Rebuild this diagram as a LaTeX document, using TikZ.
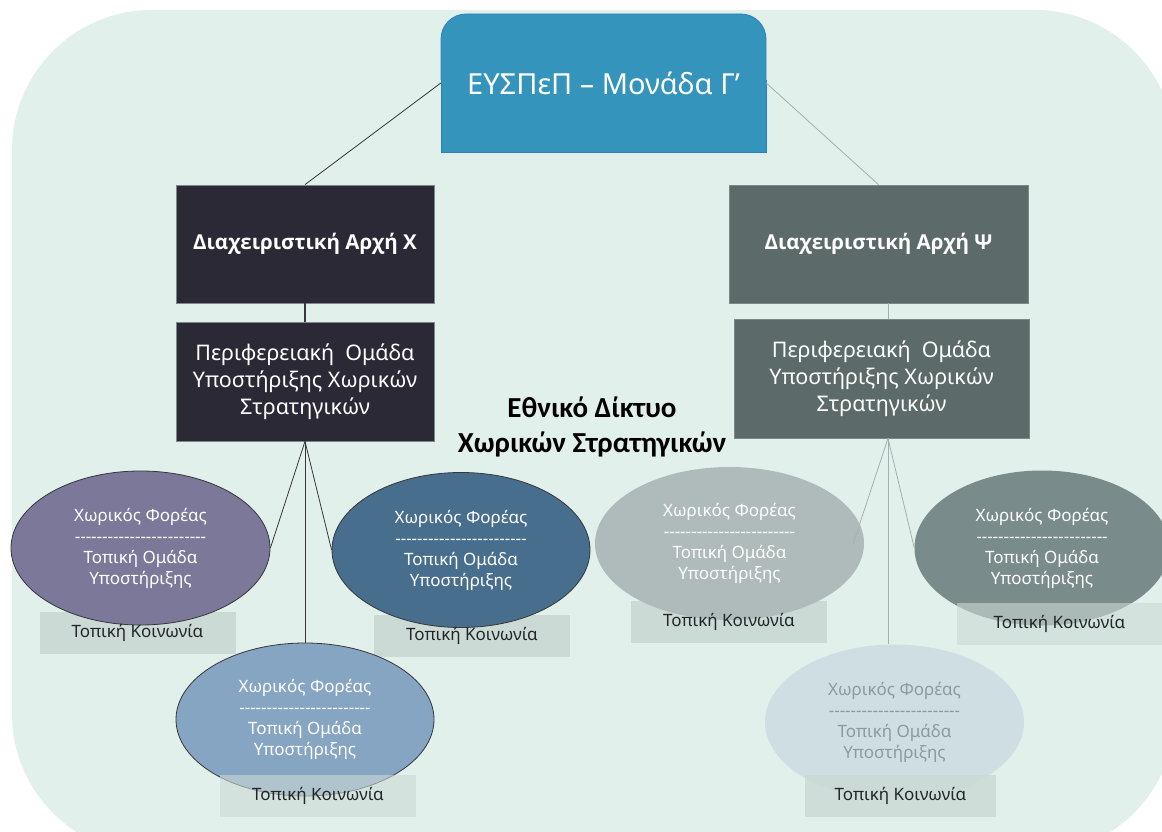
\documentclass[tikz,border=0pt]{standalone}
\usepackage{fontspec}
\setmainfont{Noto Sans}
\newfontfamily\headfont{Carlito}
\newfontfamily\authfont{Open Sans}
\usetikzlibrary{shapes.geometric}
\definecolor{bg}{RGB}{226,240,235}
\definecolor{topblue}{RGB}{53,148,188}
\definecolor{topedge}{RGB}{46,128,196}
\definecolor{darkx}{RGB}{43,41,54}
\definecolor{darkpsi}{RGB}{92,106,106}
\definecolor{boxedge}{RGB}{125,135,135}
\definecolor{eone}{RGB}{123,120,153}
\definecolor{etwo}{RGB}{72,110,142}
\definecolor{ethree}{RGB}{133,165,194}
\definecolor{efour}{RGB}{174,187,186}
\definecolor{efive}{RGB}{122,139,139}
\definecolor{esix}{RGB}{207,222,227}
\definecolor{esixtext}{RGB}{140,155,160}
\definecolor{localfill}{RGB}{204,218,213}
\definecolor{localtext}{RGB}{35,38,40}
\definecolor{linex}{RGB}{55,55,60}
\definecolor{linepsi}{RGB}{165,175,175}
\newcommand{\dashrow}{-{}-{}-{}-{}-{}-{}-{}-{}-{}-{}-{}-{}-{}-{}-{}-{}-{}-{}-{}-{}-{}-{}-{}-}
\tikzset{
  titlebox/.style={minimum width=325pt, minimum height=138pt, inner sep=0pt, text=white, font=\fontsize{29}{34}\selectfont},
  authbox/.style={rectangle, draw=boxedge, line width=0.8pt, inner sep=0pt, text=white, font=\authfont\bfseries\fontsize{20.5}{24}\selectfont},
  regbox/.style={rectangle, draw=boxedge, line width=0.8pt, inner sep=0pt, text=white, align=center, font=\fontsize{21.5}{27}\selectfont},
  bodyell/.style={ellipse, inner sep=0pt, minimum width=260pt, minimum height=155pt, align=center, text=white, font=\fontsize{17}{21}\selectfont},
  localbox/.style={rectangle, fill=localfill, minimum width=196pt, minimum height=42pt, inner sep=0pt},
  localtxt/.style={text=localtext, inner sep=0pt, font=\fontsize{17}{20}\selectfont},
  linkx/.style={draw=linex, line width=0.8pt},
  linkpsi/.style={draw=linepsi, line width=0.8pt}
}
\begin{document}
\begin{tikzpicture}[x=1pt,y=-1pt]
\useasboundingbox (0,0) rectangle (1162,832);
\begin{scope}
\clip (0,0) rectangle (1162,832);
\fill[bg, rounded corners=140pt] (12,10) rectangle (1175,854);

% title box shape
\fill[topblue, rounded corners=25pt] (441,14) rectangle (766,152);
\fill[topblue] (441,70) rectangle (766,152);
\draw[topedge, line width=0.8pt, rounded corners=25pt] (441,80) -- (441,14) -- (766,14) -- (766,80);
\draw[topedge, line width=0.8pt] (441,80) -- (441,152) -- (766,152) -- (766,80);
\node[titlebox] (top) at (603.5,83) {ΕΥΣΠεΠ – Μονάδα Γ’};

% authorities
\node[authbox, fill=darkx, minimum width=258pt, minimum height=118pt] (dax) at (305,244) {Διαχειριστική Αρχή Χ};
\node[regbox, fill=darkx, minimum width=258pt, minimum height=119pt] (px) at (305,381.5) {Περιφερειακή\ \ Ομάδα\\Υποστήριξης Χωρικών\\Στρατηγικών};
\node[authbox, fill=darkpsi, minimum width=299pt, minimum height=118pt] (dap) at (878.5,244) {Διαχειριστική Αρχή Ψ};
\node[regbox, fill=darkpsi, minimum width=295pt, minimum height=119pt] (pp) at (881.5,378.5) {Περιφερειακή\ \ Ομάδα\\Υποστήριξης Χωρικών\\Στρατηγικών};

% heading
\node[align=center, inner sep=0pt, font=\headfont\bfseries\fontsize{29}{35}\selectfont] (head) at (592,427) {Εθνικό Δίκτυο\\Χωρικών Στρατηγικών};

% local community boxes (behind)
\node[localbox] (l1) at (137.5,633) {};
\node[localbox] (l2) at (472,635.5) {};
\node[localbox] (l4) at (729,622) {};

% ellipses
\node[bodyell, fill=eone, draw=linex, line width=0.8pt, minimum width=259pt, minimum height=154pt] (e1) at (140.5,548) {Χωρικός Φορέας\\\dashrow\\Τοπική Ομάδα\\Υποστήριξης};
\node[bodyell, fill=etwo, draw=linex, line width=0.8pt, minimum width=258pt, minimum height=155pt] (e2) at (461,550) {Χωρικός Φορέας\\\dashrow\\Τοπική Ομάδα\\Υποστήριξης};
\node[bodyell, fill=ethree, draw=linex, line width=0.8pt, minimum width=258pt, minimum height=153pt] (e3) at (305,719.5) {Χωρικός Φορέας\\\dashrow\\Τοπική Ομάδα\\Υποστήριξης};
\node[bodyell, fill=efour, minimum width=269pt, minimum height=153pt] (e4) at (729.5,543.5) {Χωρικός Φορέας\\\dashrow\\Τοπική Ομάδα\\Υποστήριξης};
\node[bodyell, fill=efive, minimum width=255pt, minimum height=155pt] (e5) at (1042,548) {Χωρικός Φορέας\\\dashrow\\Τοπική Ομάδα\\Υποστήριξης};
\node[bodyell, fill=esix, text=esixtext, minimum width=259pt, minimum height=155pt] (e6) at (894.5,722) {Χωρικός Φορέας\\\dashrow\\Τοπική Ομάδα\\Υποστήριξης};

% local community boxes (in front, translucent)
\node[localbox, fill opacity=0.6] (l3) at (318,795.5) {};
\node[localbox, fill opacity=0.6, minimum width=205pt] (l5) at (1059.5,623.5) {};
\node[localbox, fill opacity=0.85, minimum width=191pt] (l6) at (900.5,795.5) {};

\node[localtxt] (t1) at (l1) {Τοπική Κοινωνία};
\node[localtxt] (t2) at (l2) {Τοπική Κοινωνία};
\node[localtxt] (t3) at (l3) {Τοπική Κοινωνία};
\node[localtxt] (t4) at (l4) {Τοπική Κοινωνία};
\node[localtxt] (t5) at (l5) {Τοπική Κοινωνία};
\node[localtxt] (t6) at (l6) {Τοπική Κοινωνία};

% connectors
\draw[linkx] (top.west) -- (dax.north);
\draw[linkpsi] (top.east) -- (dap.north);
\draw[linkx, line width=1.5pt] (dax.south) -- (px.north);
\draw[linkpsi] ([xshift=9.5pt]dap.south) -- ([xshift=6.5pt]pp.north);
\draw[linkx] (px.south) -- (e1.east);
\draw[linkx] (px.south) -- (e2.west);
\draw[linkx] (px.south) -- (e3.north);
\draw[linkpsi] ([xshift=6.5pt]pp.south) -- ([xshift=-11pt]e4.east);
\draw[linkpsi] ([xshift=6.5pt]pp.south) -- (e5.west);
\draw[linkpsi] ([xshift=6.5pt]pp.south) -- ([xshift=-6.5pt]e6.north);
\end{scope}
\end{tikzpicture}
\end{document}
